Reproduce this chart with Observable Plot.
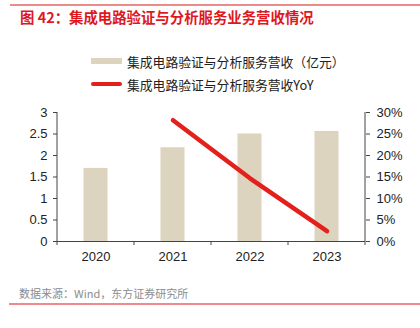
<!DOCTYPE html>
<html><head><meta charset="utf-8">
<script src="https://cdn.jsdelivr.net/npm/d3@7"></script>
<script src="https://cdn.jsdelivr.net/npm/@observablehq/plot@0.6"></script>
<style>
body{margin:0;background:#fff;}
#wrap{position:relative;width:420px;height:328px;overflow:hidden;font-family:"Noto Sans CJK SC","Liberation Sans",sans-serif;}
.hr{position:absolute;height:2px;}
#title{position:absolute;left:20px;top:10px;font-size:14.4px;line-height:14px;font-weight:bold;color:#e0181e;white-space:nowrap;}
.leg{position:absolute;left:91px;display:flex;align-items:center;font-size:12.8px;color:#222;white-space:nowrap;height:16px;}
.sw{display:inline-block;margin-right:5px;}
#foot{position:absolute;left:19px;top:287px;font-size:11px;line-height:12px;color:#8c8c8c;white-space:nowrap;}
#plot{position:absolute;left:0;top:100px;}
</style></head><body>
<div id="wrap">
  <div class="hr" style="left:10px;top:4px;width:410px;background:#ee8a8a;"></div>
  <div id="title"></div>
  <div class="leg" id="leg1" style="top:53px;"><span class="sw" style="width:31px;height:6px;background:#ddd4bf;"></span><span id="l1"></span></div>
  <div class="leg" id="leg2" style="top:76px;"><span class="sw" style="width:31px;height:4px;border-radius:2px;background:#e3201b;"></span><span id="l2"></span></div>
  <div id="plot"></div>
  <div id="foot"></div>
  <div class="hr" style="left:9px;top:303px;width:411px;background:#ee8a8a;"></div>
</div>
<script>
const titleText = "图 42：集成电路验证与分析服务业务营收情况";
const barSeriesName = "集成电路验证与分析服务营收（亿元）";
const lineSeriesName = "集成电路验证与分析服务营收YoY";
const footText = "数据来源：Wind，东方证券研究所";

const years = ["2020", "2021", "2022", "2023"];
const revenue = [1.70, 2.18, 2.50, 2.56];
const yoyYears = ["2021", "2022", "2023"];
const yoy = [28.2, 14.7, 2.4];

const leftTicks = [0, 0.5, 1, 1.5, 2, 2.5, 3];
const leftTickLabels = ["0", "0.5", "1", "1.5", "2", "2.5", "3"];
const rightTicks = [0, 5, 10, 15, 20, 25, 30];
const rightTickLabels = ["0%", "5%", "10%", "15%", "20%", "25%", "30%"];

document.getElementById("title").textContent = titleText;
document.getElementById("l1").textContent = barSeriesName;
document.getElementById("l2").textContent = lineSeriesName;
document.getElementById("foot").textContent = footText;

const barData = years.map((y, i) => ({year: y, value: revenue[i]}));
const lineData = yoyYears.map((y, i) => ({year: y, yoy: yoy[i]}));
const ratio = 3 / 30; // right axis (%) mapped onto left scale

const chart = Plot.plot({
  width: 420,
  height: 175,
  marginTop: 12,
  marginBottom: 34,
  marginLeft: 57,
  marginRight: 55,
  style: {fontFamily: "'Liberation Sans', Arial, sans-serif", fontSize: "13px", color: "#222", background: "transparent"},
  x: {domain: years, padding: 0, axis: null},
  y: {domain: [0, 3], axis: null},
  marks: [
    Plot.barY(barData, {x: "year", y: "value", fill: "#ddd4bf", insetLeft: 26.5, insetRight: 26.5}),
    Plot.line(lineData, {x: "year", y: d => d.yoy * ratio, stroke: "#e3201b", strokeWidth: 4.5, strokeLinecap: "round"}),
    Plot.axisX({tickSize: 0, tickPadding: 10, fontSize: 13, label: null}),
    Plot.axisY({anchor: "left", label: null, ticks: leftTicks, tickSize: 4, tickPadding: 6, tickFormat: (d) => leftTickLabels[leftTicks.indexOf(d)], stroke: "#444"}),
    Plot.axisY({anchor: "right", label: null, ticks: rightTicks.map(v => v * ratio), tickSize: 4, tickPadding: 7,
      tickFormat: (d) => rightTickLabels[rightTicks.findIndex(v => Math.abs(v * ratio - d) < 1e-9)], stroke: "#444"}),
    Plot.ruleY([0], {stroke: "#444"})
  ]
});

document.getElementById("plot").appendChild(chart);

// axis lines and category-boundary ticks from the library's scales
const sx = chart.scale("x");
const sy = chart.scale("y");
const svg = d3.select(chart);
const [xa, xb] = sx.range;
const yb = sy.apply(0), yt = sy.apply(3);
const g = svg.append("g").attr("stroke", "#444").attr("stroke-width", 1);
g.append("line").attr("x1", xa).attr("x2", xa).attr("y1", yb).attr("y2", yt);
g.append("line").attr("x1", xb).attr("x2", xb).attr("y1", yb).attr("y2", yt);
const bounds = years.map(y => sx.apply(y)).concat([xb]);
bounds.forEach(bx => g.append("line").attr("x1", bx).attr("x2", bx).attr("y1", yb).attr("y2", yb + 4));
</script>
</body></html>
